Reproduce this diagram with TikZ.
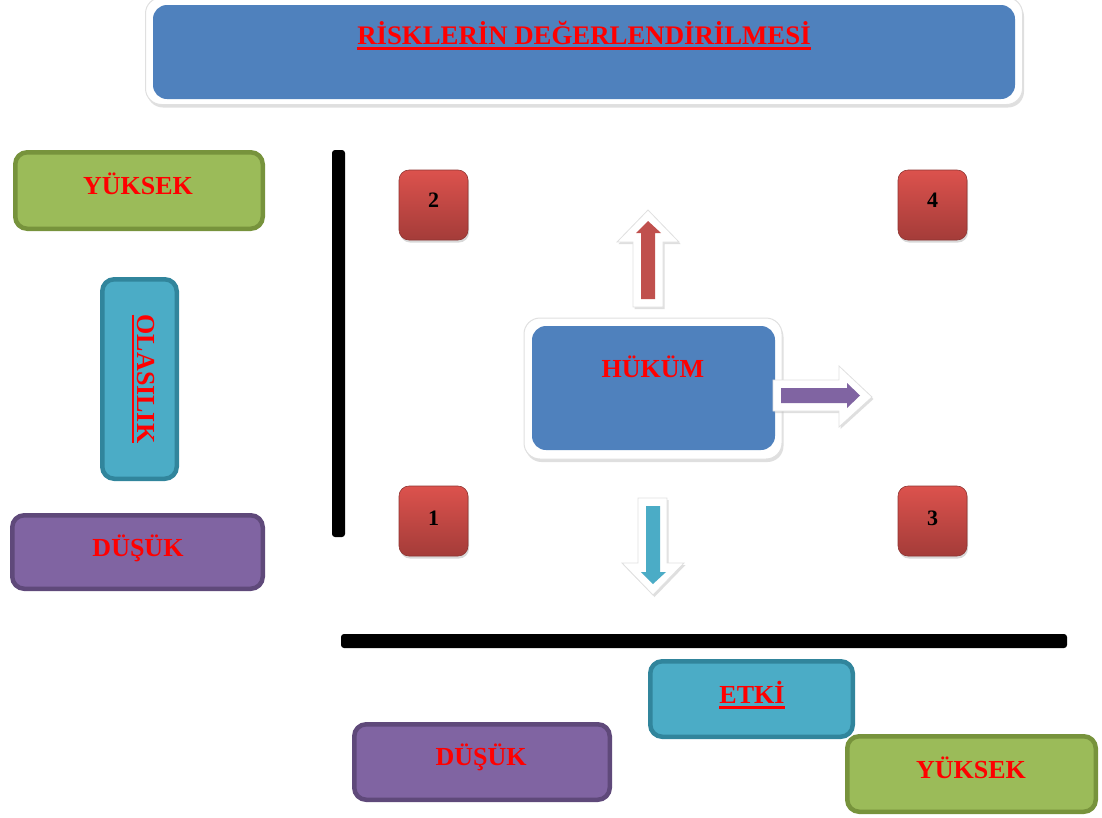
\documentclass[tikz,border=0pt]{standalone}
\usepackage{fontspec}
\setmainfont{Liberation Serif}
\usetikzlibrary{shadows}
\definecolor{hblue}{HTML}{4F81BD}
\definecolor{gfill}{HTML}{9BBB59}
\definecolor{gdraw}{HTML}{77933C}
\definecolor{cfill}{HTML}{4BACC6}
\definecolor{cdraw}{HTML}{31859C}
\definecolor{pfill}{HTML}{8064A2}
\definecolor{pdraw}{HTML}{5F497A}
\definecolor{rfill}{HTML}{C0504D}
\definecolor{sqtop}{HTML}{DC524D}
\definecolor{sqbot}{HTML}{A43C39}
\definecolor{sqdraw}{HTML}{8E3431}
\newsavebox{\ulbox}
\newcommand{\redul}[1]{\sbox{\ulbox}{#1}\rlap{\rule[-5.5pt]{\wd\ulbox}{2.6pt}}\usebox{\ulbox}}
\tikzset{
  cbox/.style={rounded corners=12pt, line width=4.5pt, inner sep=0pt, draw},
  greenbox/.style={cbox, fill=gfill, draw=gdraw},
  cyanbox/.style={cbox, fill=cfill, draw=cdraw},
  purplebox/.style={cbox, fill=pfill, draw=pdraw},
  frame/.style={rounded corners=16pt, fill=white, draw=black!12, line width=1pt, inner sep=0pt,
    drop shadow={shadow xshift=1.5pt, shadow yshift=-3pt, fill=black!25}},
  bluefill/.style={rounded corners=14pt, fill=hblue, inner sep=0pt},
  redsq/.style={rounded corners=10pt, inner sep=0pt, minimum width=69pt, minimum height=70pt,
    top color=sqtop, bottom color=sqbot, draw=sqdraw, line width=0.6pt,
    drop shadow={shadow xshift=1pt, shadow yshift=-2.5pt, fill=black!30}},
  lbl/.style={font=\fontsize{26}{30}\selectfont\bfseries, text=red, inner sep=0pt, anchor=base},
  titlelbl/.style={lbl, font=\fontsize{26.8}{30}\selectfont\bfseries},
  numlbl/.style={font=\fontsize{22}{26}\selectfont\bfseries, text=black, inner sep=0pt, anchor=base},
  whitearrow/.style={fill=white, draw=black!12, line width=0.8pt,
    drop shadow={shadow xshift=1.5pt, shadow yshift=-2pt, fill=black!25}},
  axis/.style={fill=black, rounded corners=3pt}
}
\begin{document}
\begin{tikzpicture}[x=1pt, y=-1pt]
\useasboundingbox (0,0) rectangle (1102,817);
% title
\node[frame, minimum width=877pt, minimum height=107pt] (tframe) at (584,51) {};
\node[bluefill, minimum width=862pt, minimum height=94pt] (tblue) at (584,52) {};
\node[titlelbl] (title) at (584,44) {\redul{RİSKLERİN DEĞERLENDİRİLMESİ}};
% left column
\node[greenbox, minimum width=247.5pt, minimum height=76.5pt] (yl) at (139,190.5) {};
\node[lbl] (ylt) at (138,194) {YÜKSEK};
\node[cyanbox, minimum width=74.5pt, minimum height=199.5pt] (ol) at (139.5,379) {};
\node[lbl, rotate=-90] (olt) at (137,379) {\redul{OLASILIK}};
\node[purplebox, minimum width=250.5pt, minimum height=73.5pt] (dl) at (137.5,552) {};
\node[lbl] (dlt) at (138,556) {DÜŞÜK};
% axes
\fill[axis] (332,150) rectangle (345,537);
\fill[axis] (341,634) rectangle (1067,648);
% red squares
\node[redsq] (s2) at (433.5,205) {};
\node[numlbl] (n2) at (433.5,207) {2};
\node[redsq] (s4) at (932.5,205) {};
\node[numlbl] (n4) at (932.5,207) {4};
\node[redsq] (s1) at (433.5,521) {};
\node[numlbl] (n1) at (433.5,525) {1};
\node[redsq] (s3) at (932.5,521) {};
\node[numlbl] (n3) at (932.5,525) {3};
% HÜKÜM
\node[frame, minimum width=258pt, minimum height=141pt] (hframe) at (653,388.5) {};
\node[bluefill, minimum width=243pt, minimum height=124pt] (hblue) at (653.5,388) {};
\node[lbl] (ht) at (653,377) {HÜKÜM};
% up arrow
\path[whitearrow] (633,307)--(633,242)--(617,242)--(648,210)--(679,242)--(663,242)--(663,307)--cycle;
\fill[rfill] (641,299)--(641,233)--(636,233)--(648,221)--(661,233)--(655,233)--(655,299)--cycle;
% right arrow
\path[whitearrow] (773,380)--(839,380)--(839,366)--(872,397)--(839,427)--(839,411)--(773,411)--cycle;
\fill[pfill] (781,388)--(847,388)--(847,383)--(860,395.5)--(847,408)--(847,403)--(781,403)--cycle;
% down arrow
\path[whitearrow] (638,498)--(667,498)--(667,563)--(684,563)--(653,595)--(622,563)--(638,563)--cycle;
\fill[cfill] (646,506)--(660,506)--(660,572)--(666,572)--(653,584)--(641,572)--(646,572)--cycle;
% bottom row
\node[cyanbox, minimum width=202.5pt, minimum height=75.5pt] (etki) at (751.5,699) {};
\node[lbl] (etkit) at (752,703) {\redul{ETKİ}};
\node[purplebox, minimum width=255.5pt, minimum height=75.5pt] (db) at (482,762) {};
\node[lbl] (dbt) at (481,765) {DÜŞÜK};
\node[greenbox, minimum width=248.5pt, minimum height=75.5pt] (yb) at (971.5,774) {};
\node[lbl] (ybt) at (971,778) {YÜKSEK};
\end{tikzpicture}
\end{document}
